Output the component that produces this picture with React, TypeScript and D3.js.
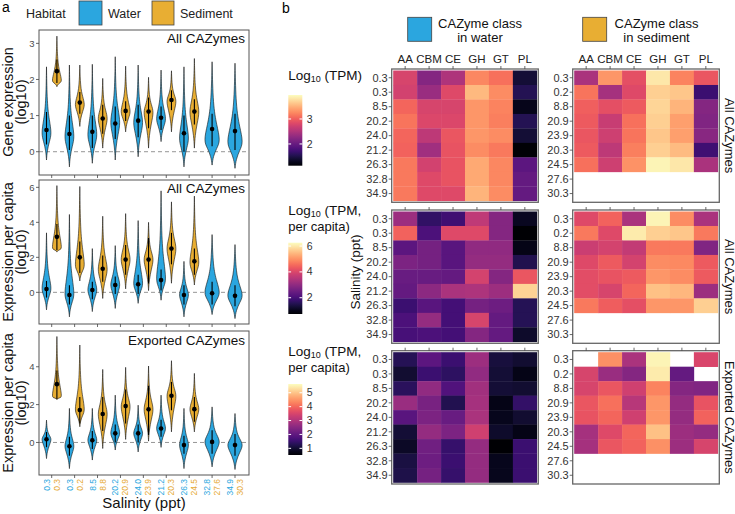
import React from "react";
import * as d3 from "d3";

// ---------- data ----------
const waterSalinity = ["0.3", "0.3", "8.5", "20.2", "24.0", "21.2", "26.3", "32.8", "34.9"];
const sedimentSalinity = ["0.3", "0.2", "8.8", "20.9", "23.9", "20.3", "24.5", "27.6", "30.3"];
const cazyClasses = ["AA", "CBM", "CE", "GH", "GT", "PL"];

// violin summaries: [min, mode, max, point, lineLo, lineHi]
const geneWater = [
  [-0.23, 0.5, 2.35, 0.6, 0.2, 1.1],
  [-0.42, 0.4, 2.4, 0.49, 0.05, 1.0],
  [-0.32, 0.45, 2.42, 0.55, 0.1, 1.0],
  [-0.23, 0.8, 2.63, 0.78, 0.35, 1.25],
  [-0.14, 0.8, 2.4, 0.86, 0.4, 1.3],
  [0.28, 0.9, 2.26, 0.94, 0.6, 1.25],
  [-0.42, 0.35, 2.35, 0.51, 0.0, 1.0],
  [-0.37, 0.3, 2.49, 0.63, 0.15, 1.05],
  [-0.46, 0.25, 2.45, 0.57, 0.05, 1.05],
];
const geneSediment = [
  [1.8, 1.95, 3.2, 2.23, 1.9, 2.55],
  [0.7, 1.3, 2.4, 1.36, 1.05, 1.65],
  [0.1, 0.92, 2.03, 0.92, 0.5, 1.3],
  [0.55, 1.1, 2.37, 1.13, 0.85, 1.4],
  [0.1, 1.1, 2.06, 1.11, 0.65, 1.5],
  [0.55, 1.4, 2.24, 1.43, 1.15, 1.7],
  [0.1, 1.1, 2.58, 1.11, 0.75, 1.45],
];
const capitaWater = [
  [-1.0, 0.19, 3.4, 0.19, -0.3, 0.65],
  [-1.4, -0.15, 4.45, -0.15, -0.7, 0.4],
  [-1.1, 0.13, 2.5, 0.13, -0.4, 0.6],
  [-0.92, 0.42, 2.67, 0.42, -0.1, 0.9],
  [-0.63, 0.46, 4.1, 0.46, -0.1, 1.0],
  [-0.45, 0.7, 5.8, 0.7, 0.1, 1.3],
  [-1.4, -0.15, 1.77, -0.15, -0.7, 0.4],
  [-1.27, -0.05, 3.3, -0.05, -0.7, 0.6],
  [-1.5, -0.2, 2.73, -0.2, -0.8, 0.4],
];
const capitaSediment = [
  [2.3, 2.5, 6.1, 3.17, 2.4, 3.9],
  [0.65, 1.5, 6.05, 2.0, 1.1, 2.9],
  [-0.35, 1.3, 4.35, 1.35, 0.6, 2.1],
  [0.2, 1.87, 4.5, 1.87, 1.0, 2.7],
  [0.1, 1.87, 4.0, 1.87, 0.5, 3.1],
  [0.52, 2.5, 5.17, 2.5, 1.6, 3.4],
  [0.42, 1.67, 5.5, 1.77, 1.0, 2.5],
];
const exportWater = [
  [-0.85, 0.17, 1.18, 0.17, -0.25, 0.55],
  [-1.38, -0.2, 1.8, -0.2, -0.7, 0.3],
  [-0.93, 0.12, 1.8, 0.12, -0.35, 0.6],
  [-0.4, 0.48, 2.5, 0.48, 0.0, 0.95],
  [-0.5, 0.48, 1.97, 0.48, 0.0, 0.95],
  [-0.26, 0.74, 2.5, 0.74, 0.3, 1.2],
  [-1.38, -0.14, 1.8, -0.14, -0.6, 0.35],
  [-1.29, 0.03, 1.88, 0.03, -0.6, 0.65],
  [-1.43, -0.14, 1.53, -0.14, -0.7, 0.45],
];
const exportSediment = [
  [2.27, 2.4, 5.6, 3.08, 2.3, 3.8],
  [0.83, 1.7, 5.15, 1.71, 1.0, 2.4],
  [-0.32, 1.5, 3.86, 1.5, 0.6, 2.4],
  [0.16, 1.9, 3.97, 1.92, 1.0, 2.8],
  [0.07, 1.75, 4.04, 1.75, 0.4, 3.0],
  [0.56, 2.47, 4.32, 2.47, 1.7, 3.2],
  [0.56, 1.75, 3.65, 1.76, 1.1, 2.4],
];

// heatmaps: rows = salinity, columns = AA, CBM, CE, GH, GT, PL
const tpmWater = [
  [2.77, 2.21, 2.49, 3.25, 3.11, 1.41],
  [2.74, 2.35, 2.83, 3.54, 3.28, 1.55],
  [3.05, 2.77, 2.77, 3.34, 3.22, 1.27],
  [3.14, 2.8, 2.8, 3.34, 3.2, 1.55],
  [3.05, 2.6, 2.94, 3.34, 3.28, 1.41],
  [3.03, 2.4, 2.91, 3.28, 3.17, 1.16],
  [3.17, 2.74, 2.91, 3.45, 3.25, 1.92],
  [3.17, 2.83, 2.91, 3.45, 3.25, 1.98],
  [3.17, 2.83, 2.83, 3.51, 3.28, 1.98],
];
const tpmSediment = [
  [2.46, 3.34, 2.88, 3.82, 3.22, 2.94],
  [3.14, 2.43, 2.83, 3.68, 3.62, 1.7],
  [3.0, 2.88, 2.97, 3.71, 3.51, 2.21],
  [2.97, 2.66, 3.11, 3.68, 3.39, 2.18],
  [2.94, 2.71, 3.14, 3.62, 3.39, 2.23],
  [2.97, 2.6, 3.2, 3.68, 3.56, 1.72],
  [3.11, 2.71, 3.31, 3.9, 3.82, 2.46],
  [null, null, null, null, null, null],
  [null, null, null, null, null, null],
];
const perCapitaWater = [
  [3.17, 1.73, 1.9, 3.61, 2.84, 1.07],
  [4.44, 2.06, 4.05, 4.05, 2.84, 0.74],
  [2.29, 2.62, 2.23, 3.0, 3.0, 0.96],
  [2.73, 2.62, 2.23, 3.06, 3.06, 1.51],
  [2.45, 2.45, 2.4, 3.89, 2.84, 4.27],
  [2.4, 2.95, 3.33, 3.39, 3.17, 5.76],
  [1.84, 2.23, 1.95, 2.62, 2.51, 1.57],
  [2.06, 3.06, 1.95, 3.94, 2.4, 1.57],
  [2.01, 2.06, 1.95, 2.84, 2.4, 1.18],
];
const perCapitaSediment = [
  [4.05, 4.44, 3.33, 6.15, 4.94, 3.33],
  [4.71, 4.05, 6.04, 5.71, 5.6, 4.71],
  [3.78, 3.89, 3.67, 4.71, 4.71, 2.78],
  [4.05, 4.33, 3.89, 4.94, 4.88, 4.33],
  [4.11, 4.22, 4.33, 5.05, 4.94, 4.33],
  [4.11, 3.94, 4.49, 5.54, 5.43, 3.17],
  [4.71, 4.38, 4.16, 5.05, 5.05, 5.71],
  [null, null, null, null, null, null],
  [null, null, null, null, null, null],
];
const exportedWater = [
  [1.29, 1.95, 1.54, 2.77, 1.08, 0.98],
  [0.98, 1.54, 1.39, 2.62, 1.03, 0.72],
  [1.34, 2.62, 1.8, 2.82, 1.03, 0.98],
  [2.72, 2.31, 1.24, 2.87, 0.72, 1.44],
  [1.9, 2.36, 2.1, 2.92, 0.78, 0.98],
  [1.03, 2.67, 2.36, 3.38, 0.93, 0.72],
  [0.88, 2.21, 1.49, 2.67, 0.52, 1.54],
  [1.13, 2.16, 1.54, 2.67, 0.78, 1.54],
  [1.18, 2.26, 1.49, 2.67, 0.78, 1.54],
];
const exportedSediment = [
  [null, 4.45, 2.92, 5.53, null, 3.53],
  [3.48, 2.72, 2.46, 5.43, 2.05, null],
  [3.48, 3.79, 3.38, 4.3, 2.46, 2.41],
  [3.79, 4.1, 3.08, 4.51, 2.67, 3.74],
  [3.74, 3.99, 3.38, 4.51, 2.67, 3.94],
  [2.87, 3.59, 3.99, 4.97, 2.77, 2.67],
  [2.87, 3.79, 3.94, 4.45, 2.77, 3.48],
  [null, null, null, null, null, null],
  [null, null, null, null, null, null],
];

// colour bar limits and ticks
const tpmLimits = [1.13, 3.96];
const tpmTicks = [2, 3];
const capitaLimits = [0.74, 6.26];
const capitaTicks = [2, 4, 6];
const exportLimits = [0.52, 5.63];
const exportTicks = [1, 2, 3, 4, 5];

// ---------- styles ----------
const FONT = "'Liberation Sans', Arial, sans-serif";
const BLUE = "#2ba6df";
const GOLD = "#e8ae33";
const BLUE_TXT = "#2aa7e0";
const GOLD_TXT = "#e6a935";

const aPanels = [
  { top: 30, bottom: 175, domain: [-0.645, 3.37], ticks: [0, 1, 2, 3], water: geneWater, sed: geneSediment, title: "All CAZymes", titleY: 43, ylab: ["Gene expression", "(log10)"], labY: 102 },
  { top: 180, bottom: 324, domain: [-1.81, 6.42], ticks: [0, 2, 4, 6], water: capitaWater, sed: capitaSediment, title: "All CAZymes", titleY: 193, ylab: ["Expression per capita", "(log10)"], labY: 252 },
  { top: 331, bottom: 475, domain: [-1.72, 5.89], ticks: [0, 2, 4], water: exportWater, sed: exportSediment, title: "Exported CAZymes", titleY: 345, ylab: ["Expression per capita", "(log10)"], labY: 403 },
];

function Violin({ cx, hw, d, y, fill }: any) {
  const [mn, mode, mx, pt, lo, hi] = d;
  const below = [[0, 0], [0.35, 0.13], [0.7, 0.55]].map(([f, w]) => [mn + f * (mode - mn), w]);
  const above = [[0.2, 0.55], [0.45, 0.12], [1, 0]].map(([f, w]) => [mode + f * (mx - mode), w]);
  const prof = [...below, [mode, 1], ...above];
  const area = d3
    .area<number[]>()
    .y((p) => y(p[0]))
    .x0((p) => cx - p[1] * hw)
    .x1((p) => cx + p[1] * hw)
    .curve(d3.curveBasis);
  return (
    <g>
      <path d={area(prof) || ""} fill={fill} stroke="#111" strokeWidth={0.6} />
      <line x1={cx} x2={cx} y1={y(lo)} y2={y(hi)} stroke="#000" strokeWidth={1.1} />
      <circle cx={cx} cy={y(pt)} r={2.3} fill="#000" />
    </g>
  );
}

function PanelA() {
  const aLeft = 39;
  const aRight = 249;
  const x = d3.scalePoint<number>().domain(d3.range(waterSalinity.length)).range([51.7, 235]);
  return (
    <g>
      <text x={2} y={12} fontSize={14}>a</text>
      <text x={26} y={18} fontSize={12.5} fill="#222">Habitat</text>
      <rect x={79} y={1} width={23} height={24} fill={BLUE} stroke="#444" strokeWidth={0.8} />
      <text x={108} y={18} fontSize={12.5} fill="#222">Water</text>
      <rect x={152} y={1} width={22} height={24} fill={GOLD} stroke="#444" strokeWidth={0.8} />
      <text x={180} y={18} fontSize={12.5} fill="#222">Sediment</text>
      {aPanels.map((p, k) => {
        const y = d3.scaleLinear().domain(p.domain).range([p.bottom, p.top]);
        return (
          <g key={k}>
            <line x1={aLeft} x2={aRight} y1={y(0)} y2={y(0)} stroke="#8a8a8a" strokeWidth={0.9} strokeDasharray="4,3" />
            {waterSalinity.map((_, i) => {
              const cx = x(i)!;
              const s = p.sed[i];
              return (
                <g key={i}>
                  <Violin cx={s ? cx - 5.2 : cx} hw={s ? 5.2 : 8.4} d={p.water[i]} y={y} fill={BLUE} />
                  {s && <Violin cx={cx + 5.2} hw={5.2} d={s} y={y} fill={GOLD} />}
                </g>
              );
            })}
            <rect x={aLeft} y={p.top} width={aRight - aLeft} height={p.bottom - p.top} fill="none" stroke="#555" strokeWidth={1} />
            {p.ticks.map((t) => (
              <g key={t}>
                <line x1={aLeft - 3} x2={aLeft} y1={y(t)} y2={y(t)} stroke="#444" strokeWidth={0.8} />
                <text x={aLeft - 4.5} y={y(t) + 3.4} fontSize={9.5} fill="#4d4d4d" textAnchor="end">{t}</text>
              </g>
            ))}
            {waterSalinity.map((_, i) => (
              <line key={i} x1={x(i)} x2={x(i)} y1={p.bottom} y2={p.bottom + 3} stroke="#444" strokeWidth={0.8} />
            ))}
            <text x={245} y={p.titleY} fontSize={13.5} textAnchor="end" fill="#111">{p.title}</text>
            <text transform={`translate(12.5,${p.labY}) rotate(-90)`} fontSize={14.5} textAnchor="middle" fill="#111">{p.ylab[0]}</text>
            <text transform={`translate(26,${p.labY}) rotate(-90)`} fontSize={14.5} textAnchor="middle" fill="#111">{p.ylab[1]}</text>
          </g>
        );
      })}
      {waterSalinity.map((w, i) => (
        <g key={i}>
          <text transform={`translate(${x(i)! - 2},479) rotate(-90)`} fontSize={8.5} textAnchor="end" fill={BLUE_TXT}>{w}</text>
          <text transform={`translate(${x(i)! + 8},479) rotate(-90)`} fontSize={8.5} textAnchor="end" fill={GOLD_TXT}>{sedimentSalinity[i]}</text>
        </g>
      ))}
      <text x={144} y={508} fontSize={15} textAnchor="middle" fill="#111">Salinity (ppt)</text>
    </g>
  );
}

const bPanels = [
  { top: 69, bottom: 202.3, water: tpmWater, sed: tpmSediment, limits: tpmLimits, ticks: tpmTicks, cb: [95, 165.7], lines: ["(TPM)"], titleY: 80, strip: "All CAZymes" },
  { top: 210, bottom: 343.3, water: perCapitaWater, sed: perCapitaSediment, limits: capitaLimits, ticks: capitaTicks, cb: [242.7, 314], lines: ["(TPM,", "per capita)"], titleY: 215, strip: "All CAZymes" },
  { top: 350.7, bottom: 484, water: exportedWater, sed: exportedSediment, limits: exportLimits, ticks: exportTicks, cb: [384, 455], lines: ["(TPM,", "per capita)"], titleY: 356, strip: "Exported CAZymes" },
];

function PanelB() {
  const wx0 = 391.7, wx1 = 538.3, sx0 = 572.7, sx1 = 719.3;
  const waterX = d3.scaleBand().domain(cazyClasses).range([wx0 + 1.5, wx1 - 1.5]);
  const sedX = d3.scaleBand().domain(cazyClasses).range([sx0 + 1.5, sx1 - 1.5]);
  const cbX = 288.3, cbW = 14;
  return (
    <g>
      <text x={282} y={13} fontSize={14}>b</text>
      <rect x={407.7} y={17.3} width={24} height={24} fill={BLUE} stroke="#444" strokeWidth={0.8} />
      <text x={480} y={27.5} fontSize={13} textAnchor="middle" fill="#111">CAZyme class</text>
      <text x={480} y={42} fontSize={13} textAnchor="middle" fill="#111">in water</text>
      <rect x={582.7} y={17.3} width={24} height={24} fill={GOLD} stroke="#444" strokeWidth={0.8} />
      <text x={656.5} y={27.5} fontSize={13} textAnchor="middle" fill="#111">CAZyme class</text>
      <text x={656.5} y={42} fontSize={13} textAnchor="middle" fill="#111">in sediment</text>
      {cazyClasses.map((c) => (
        <g key={c}>
          <text x={waterX(c)! + waterX.bandwidth() / 2} y={63} fontSize={11.5} textAnchor="middle" fill="#222">{c}</text>
          <text x={sedX(c)! + sedX.bandwidth() / 2} y={63} fontSize={11.5} textAnchor="middle" fill="#222">{c}</text>
        </g>
      ))}
      {bPanels.map((p, k) => {
        const rowY = d3.scaleBand<number>().domain(d3.range(9)).range([p.top + 1.5, p.bottom - 1.5]);
        const norm = d3.scaleLinear().domain(p.limits).range([0, 1]).clamp(true);
        const color = (v: number) => d3.interpolateMagma(norm(v));
        const cbY = d3.scaleLinear().domain(p.limits).range([p.cb[1], p.cb[0]]);
        const grids = [
          { m: p.water, xs: waterX, x0: wx0, x1: wx1, labels: waterSalinity },
          { m: p.sed, xs: sedX, x0: sx0, x1: sx1, labels: sedimentSalinity },
        ];
        return (
          <g key={k}>
            {grids.map((g, gi) => (
              <g key={gi}>
                {g.m.map((row, r) =>
                  row.map((v, c) =>
                    v == null ? null : (
                      <rect key={`${r}-${c}`} x={g.xs(cazyClasses[c])} y={rowY(r)} width={g.xs.bandwidth() + 0.3} height={rowY.bandwidth() + 0.3} fill={color(v)} />
                    )
                  )
                )}
                <rect x={g.x0} y={p.top} width={g.x1 - g.x0} height={p.bottom - p.top} fill="none" stroke="#666" strokeWidth={1.3} />
                {cazyClasses.map((c) => {
                  const cx = g.xs(c)! + g.xs.bandwidth() / 2;
                  return <line key={c} x1={cx} x2={cx} y1={p.top - 3} y2={p.top} stroke="#444" strokeWidth={0.8} />;
                })}
                {g.labels.map((l, r) => {
                  const cy = rowY(r)! + rowY.bandwidth() / 2;
                  return (
                    <g key={r}>
                      <line x1={g.x0 - 3} x2={g.x0} y1={cy} y2={cy} stroke="#444" strokeWidth={0.8} />
                      <text x={g.x0 - 4} y={cy + 3.8} fontSize={11} textAnchor="end" fill="#333">{l}</text>
                    </g>
                  );
                })}
              </g>
            ))}
            <text transform={`translate(724.5,${(p.top + p.bottom) / 2}) rotate(90)`} fontSize={13} textAnchor="middle" fill="#111">{p.strip}</text>
            {/* legend title: Log, subscript 10, rest; second line kept clear of the subscript */}
            <text x={cbX} y={p.titleY} fontSize={13.5} fill="#111">
              Log
              <tspan fontSize={9} dy={2}>10</tspan>
              <tspan dy={-2}>{" " + p.lines[0]}</tspan>
            </text>
            {p.lines[1] && (
              <text x={cbX} y={p.titleY + 16} fontSize={13} fill="#111">{p.lines[1]}</text>
            )}
            <rect x={cbX} y={p.cb[0]} width={cbW} height={p.cb[1] - p.cb[0]} fill="url(#magma)" />
            {p.ticks.map((t) => (
              <g key={t}>
                <line x1={cbX} x2={cbX + 2.8} y1={cbY(t)} y2={cbY(t)} stroke="#fff" strokeWidth={1} />
                <line x1={cbX + cbW - 2.8} x2={cbX + cbW} y1={cbY(t)} y2={cbY(t)} stroke="#fff" strokeWidth={1} />
                <text x={cbX + cbW + 4.5} y={cbY(t) + 3.6} fontSize={10.5} fill="#333">{t}</text>
              </g>
            ))}
          </g>
        );
      })}
      <text transform="translate(360,272) rotate(-90)" fontSize={13.5} textAnchor="middle" fill="#111">Salinity (ppt)</text>
    </g>
  );
}

export default function App() {
  return (
    <svg width={735} height={514} style={{ position: "absolute", left: 0, top: 0, background: "#fff" }} fontFamily={FONT}>
      <defs>
        <linearGradient id="magma" x1="0" y1="1" x2="0" y2="0">
          {d3.range(0, 1.0001, 0.05).map((t) => (
            <stop key={t} offset={t} stopColor={d3.interpolateMagma(t)} />
          ))}
        </linearGradient>
      </defs>
      <PanelA />
      <PanelB />
    </svg>
  );
}
